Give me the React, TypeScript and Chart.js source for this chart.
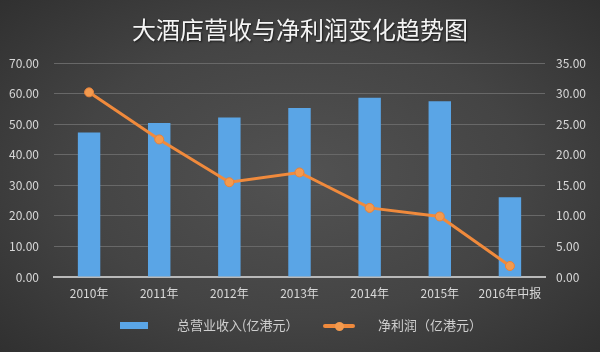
import React, { useEffect, useRef } from "react";
import { Chart, registerables } from "chart.js";

Chart.register(...registerables);

const categories = ["2010年", "2011年", "2012年", "2013年", "2014年", "2015年", "2016年中报"];
const revenue = [47.3, 50.4, 52.2, 55.3, 58.6, 57.5, 26.1];
const profit = [30.2, 22.5, 15.5, 17.1, 11.3, 9.9, 1.8];
const titleText = "大酒店营收与净利润变化趋势图";
const revenueLabel = "总营业收入(亿港元）";
const profitLabel = "净利润（亿港元）";

const FONT = "'Noto Sans CJK SC', 'Noto Sans', sans-serif";

export default function App() {
  const canvasRef = useRef<HTMLCanvasElement | null>(null);

  useEffect(() => {
    document.body.style.margin = "0";
    const ctx = canvasRef.current!.getContext("2d")!;
    const chart = new Chart(ctx, {
      data: {
        labels: categories,
        datasets: [
          {
            type: "line",
            label: profitLabel,
            data: profit,
            yAxisID: "y2",
            borderColor: "#f08a3c",
            backgroundColor: "#f08a3c",
            borderWidth: 3,
            pointRadius: 4.5,
            pointBackgroundColor: "#f39a4e",
            pointBorderColor: "#e8823a",
            pointBorderWidth: 1,
            order: 0,
          },
          {
            type: "bar",
            label: revenueLabel,
            data: revenue,
            yAxisID: "y",
            backgroundColor: "#5aa5e6",
            borderColor: "#3f8fd6",
            borderWidth: 0,
            barPercentage: 0.32,
            categoryPercentage: 1,
            order: 1,
          },
        ],
      } as any,
      options: {
        animation: false,
        responsive: false,
        maintainAspectRatio: false,
        layout: { padding: { top: 63, bottom: 0, left: 0, right: 0 } },
        plugins: {
          legend: { display: false },
          tooltip: { enabled: false },
        },
        scales: {
          x: {
            grid: { display: false, drawTicks: false },
            border: { display: true, color: "#b9b9b9", width: 2 },
            ticks: {
              color: "#d8d8d8",
              font: { family: FONT, size: 12 },
              padding: 9,
              maxRotation: 0,
              autoSkip: false,
            },
            afterFit: (s: any) => {
              s.height = 75;
            },
          },
          y: {
            position: "left",
            min: 0,
            max: 70,
            ticks: {
              stepSize: 10,
              color: "#d8d8d8",
              font: { family: FONT, size: 12 },
              padding: 15,
              callback: (v: any) => Number(v).toFixed(2),
            },
            grid: { color: "#686868", lineWidth: 1, drawTicks: false },
            border: { display: false },
            afterFit: (s: any) => {
              s.width = 54;
            },
          },
          y2: {
            position: "right",
            min: 0,
            max: 35,
            ticks: {
              stepSize: 5,
              color: "#d8d8d8",
              font: { family: FONT, size: 12 },
              padding: 11,
              callback: (v: any) => Number(v).toFixed(2),
            },
            grid: { display: false, drawTicks: false },
            border: { display: false },
            afterFit: (s: any) => {
              s.width = 55;
            },
          },
        },
      },
    });
    return () => chart.destroy();
  }, []);

  return (
    <div
      style={{
        position: "fixed",
        left: 0,
        top: 0,
        width: 600,
        height: 352,
        overflow: "hidden",
        background:
          "radial-gradient(ellipse 75% 80% at 50% 50%, #525252 0%, #444444 50%, #2c2c2c 100%)",
        fontFamily: FONT,
      }}
    >
      <div
        style={{
          position: "absolute",
          left: 0,
          top: 13,
          width: 600,
          textAlign: "center",
          color: "#f4f4f4",
          fontSize: 24,
          lineHeight: "32px",
          textShadow: "1px 1px 2px rgba(0,0,0,0.6)",
        }}
      >
        {titleText}
      </div>
      <canvas
        ref={canvasRef}
        width={600}
        height={352}
        style={{ position: "absolute", left: 0, top: 0, width: 600, height: 352 }}
      />
      <div
        style={{
          position: "absolute",
          left: 120,
          top: 322,
          width: 28,
          height: 7,
          background: "#5aa5e6",
        }}
      />
      <div
        style={{
          position: "absolute",
          left: 177,
          top: 316,
          color: "#cfcfcf",
          fontSize: 13,
          lineHeight: "18px",
          whiteSpace: "nowrap",
        }}
      >
        {revenueLabel}
      </div>
      <div
        style={{
          position: "absolute",
          left: 323,
          top: 324,
          width: 32,
          height: 4,
          borderRadius: 2,
          background: "#f08a3c",
        }}
      />
      <div
        style={{
          position: "absolute",
          left: 335,
          top: 322,
          width: 9,
          height: 9,
          borderRadius: "50%",
          background: "#f39a4e",
        }}
      />
      <div
        style={{
          position: "absolute",
          left: 378,
          top: 316,
          color: "#cfcfcf",
          fontSize: 13,
          lineHeight: "18px",
          whiteSpace: "nowrap",
        }}
      >
        {profitLabel}
      </div>
    </div>
  );
}
